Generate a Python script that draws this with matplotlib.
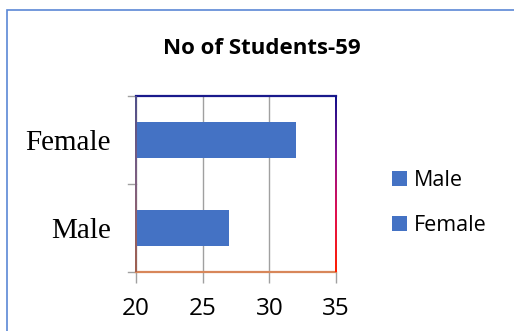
import numpy as np
import matplotlib
matplotlib.use("Agg")
import matplotlib.pyplot as plt
from matplotlib.colors import LinearSegmentedColormap
from matplotlib.patches import Rectangle, Patch

# data
categories = ["Male", "Female"]
students = [27, 32]
legend_labels = ["Male", "Female"]
x_ticks = [20, 25, 30, 35]
title = "No of Students-59"

W, H = 514, 331
fig = plt.figure(figsize=(W / 100, H / 100), dpi=100)

# outer chart border (light blue)
fig.patches.append(Rectangle((7 / W, -0.05), 1.1, (H - 10) / H + 0.05,
                             transform=fig.transFigure, fill=False,
                             edgecolor="#5b87d6", linewidth=1.2))

ax = fig.add_axes([136 / W, (H - 272) / H, 200 / W, 176 / H])
bar_color = "#4472c4"
ax.barh(range(len(categories)), students, left=0, height=0.41,
        color=bar_color, zorder=3)
ax.set_xlim(20, 35)
ax.set_ylim(-0.5, 1.5)
ax.set_xticks(x_ticks)
ax.set_xticklabels([str(t) for t in x_ticks], family="Open Sans", fontsize=17.5)
ax.set_yticks([0, 1])
ax.set_yticklabels(categories, family="Liberation Serif", fontsize=21)
ax.tick_params(axis="y", length=0, pad=18)
ax.tick_params(axis="x", length=8, color="#a0a0a0", pad=10, width=1)
ax.xaxis.grid(True, color="#a0a0a0", linewidth=1, zorder=0)
ax.set_axisbelow(True)

# y tick marks on category boundaries
for yb in [-0.5, 0.5, 1.5]:
    ax.plot([-0.04, 0], [yb, yb], transform=ax.get_yaxis_transform(),
            color="#a0a0a0", lw=1, clip_on=False)

# frame: top navy, bottom orange, sides as vertical gradients
for s in ax.spines.values():
    s.set_visible(False)
ax.plot([0, 1], [1, 1], transform=ax.transAxes, color="#1a1a8c", lw=1.6,
        clip_on=False, zorder=5)
ax.plot([0, 1], [0, 0], transform=ax.transAxes, color="#d8875a", lw=1.6,
        clip_on=False, zorder=5)

grad = np.linspace(0, 1, 200).reshape(-1, 1)
right_cmap = LinearSegmentedColormap.from_list(
    "r", ["#10108a", "#8a1090", "#e01050", "#ff2000"])
left_cmap = LinearSegmentedColormap.from_list(
    "l", ["#50508a", "#806080", "#a06050"])
for x0, cmap in [(335, right_cmap), (135, left_cmap)]:
    sax = fig.add_axes([x0 / W, (H - 272) / H, 2 / W, 176 / H])
    sax.imshow(grad, cmap=cmap, aspect="auto", interpolation="bilinear")
    sax.axis("off")

fig.text(262 / W, 1 - 48 / H, title, ha="center", va="center",
         family="Open Sans", fontweight="bold", fontsize=16)

handles = [Patch(facecolor=bar_color) for _ in legend_labels]
fig.legend(handles, legend_labels, loc="center left",
           bbox_to_anchor=(373 / W, 1 - 203 / H), frameon=False,
           prop={"family": "Open Sans", "size": 15.5}, handlelength=0.7,
           handleheight=0.7, handletextpad=0.3, labelspacing=1.1)

fig.savefig("out.png", dpi=100)
